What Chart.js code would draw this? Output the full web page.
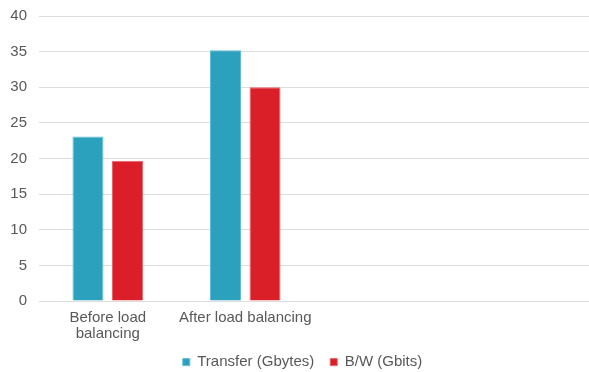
<!DOCTYPE html>
<html>
<head>
<meta charset="utf-8">
<script src="https://cdn.jsdelivr.net/npm/chart.js@4/dist/chart.umd.min.js"></script>
<style>
  html, body { margin: 0; padding: 0; background: #ffffff; }
  #wrap { width: 589px; height: 372px; position: relative; }
</style>
</head>
<body>
<div id="wrap"><canvas id="chart"></canvas></div>
<script>
// Categories (two empty slots keep the plot's right-hand space)
const categories = [["Before load", "balancing"], "After load balancing", "", ""];
const seriesNames = ["Transfer (Gbytes)", "B/W (Gbits)"];
const transferGbytes = [23.1, 35.2, null, null];
const bandwidthGbits = [19.7, 30.0, null, null];
const yTicks = [0, 5, 10, 15, 20, 25, 30, 35, 40];

const textColor = '#595959';
const gridColor = '#dedede';
const fontFamily = 'Liberation Sans, Arial, sans-serif';

new Chart(document.getElementById('chart'), {
  type: 'bar',
  data: {
    labels: categories,
    datasets: [
      {
        label: seriesNames[0],
        data: transferGbytes,
        backgroundColor: '#2ca1bd',
        borderColor: '#62bcd2',
        borderWidth: 1,
        categoryPercentage: 0.575,
        barPercentage: 0.785
      },
      {
        label: seriesNames[1],
        data: bandwidthGbits,
        backgroundColor: '#da1f29',
        borderColor: '#e8646b',
        borderWidth: 1,
        categoryPercentage: 0.575,
        barPercentage: 0.785
      }
    ]
  },
  options: {
    responsive: true,
    maintainAspectRatio: false,
    animation: false,
    layout: { padding: { left: 10, right: -6, top: 0, bottom: -7.6 } },
    plugins: {
      tooltip: { enabled: false },
      legend: {
        position: 'bottom',
        labels: {
          color: textColor,
          font: { family: fontFamily, size: 15 },
          boxWidth: 7,
          boxHeight: 7,
          padding: 3.5,
          // wider spacing between the two legend entries
          generateLabels: (chart) => {
            const items = Chart.defaults.plugins.legend.labels.generateLabels(chart);
            items.forEach((item, i) => {
              if (i < items.length - 1) item.text = item.text + '   ';
            });
            return items;
          }
        }
      }
    },
    scales: {
      x: {
        grid: { display: false, drawTicks: false },
        border: { display: false },
        afterFit: (scale) => {
          scale.paddingLeft = 0;
          scale.paddingRight = 0;
        },
        ticks: {
          color: textColor,
          font: { family: fontFamily, size: 15, lineHeight: 1.07 },
          maxRotation: 0,
          autoSkip: false,
          padding: 9
        }
      },
      y: {
        min: 0,
        max: 40,
        afterBuildTicks: (axis) => { axis.ticks = yTicks.map(v => ({ value: v })); },
        afterFit: (scale) => {
          scale.width = 29;
          scale.paddingTop = 16;
          scale.paddingBottom = 0;
        },
        grid: { color: gridColor, lineWidth: 1, drawTicks: false },
        border: { display: false },
        ticks: {
          color: textColor,
          font: { family: fontFamily, size: 15 },
          padding: 12
        }
      }
    }
  }
});
</script>
</body>
</html>
